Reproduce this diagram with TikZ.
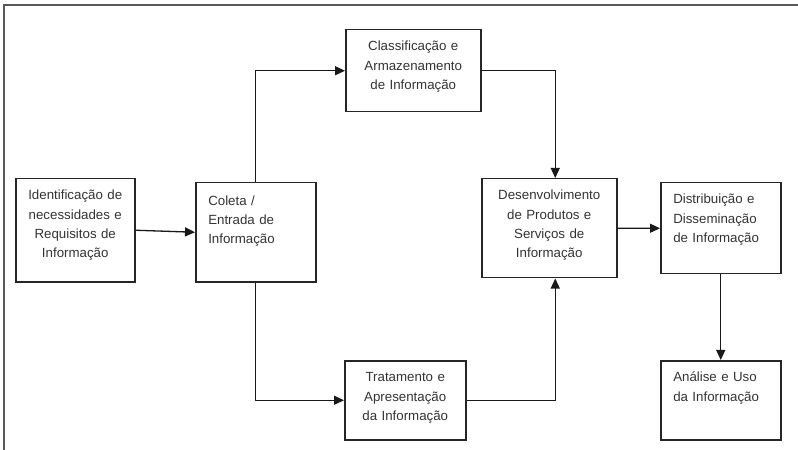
\documentclass[tikz,border=0pt]{standalone}
\usepackage{fontspec}
\setmainfont{Liberation Sans}
\usepackage{xcolor}
\usepackage{tikz}
\usetikzlibrary{arrows.meta}

\tikzset{
  box/.style={draw=black!85, line width=1.5bp, anchor=north west, inner ysep=0pt,
    text height=21bp, text=black!80, font=\fontsize{13.3bp}{19.3bp}\selectfont},
  midbox/.style={box, inner xsep=0pt, align=center},
  leftbox/.style={box, inner xsep=12.5bp, align=left},
  flow/.style={draw=black!90, line width=1.3bp, -{Triangle[length=10bp,width=9bp]}}
}

\begin{document}
\begin{tikzpicture}[x=1bp, y=-1bp]
\useasboundingbox (0,0) rectangle (798,450);
\draw[black!65, line width=1.6bp] (4,450) -- (4,5) -- (798,5);

\node[midbox, text width=119bp, text depth=82bp] (ident) at (15,178)
  {Identificação de\\necessidades e\\Requisitos de\\Informação};
\node[leftbox, text width=95bp, text height=22.5bp, text depth=76.5bp] (coleta) at (195,182)
  {Coleta /\\Entrada de\\Informação};
\node[midbox, text width=135bp, text depth=61bp] (classif) at (345,29)
  {Classificação e\\Armazenamento\\de Informação};
\node[midbox, text width=135bp, text depth=78bp] (desenv) at (481,178)
  {Desenvolvimento\\de Produtos e\\Serviços de\\Informação};
\node[leftbox, text width=95bp, text depth=70bp] (distrib) at (660,182)
  {Distribuição e\\Disseminação\\de Informação};
\node[midbox, text width=121bp, text depth=58bp] (tratam) at (344,360)
  {Tratamento e\\Apresentação\\da Informação};
\node[leftbox, text width=95bp, text depth=58bp] (analise) at (660,360)
  {Análise e Uso\\da Informação};

\draw[flow] (ident.east) -- (coleta.west);
\draw[flow] (coleta.north) |- (classif.west);
\draw[flow] (classif.east) -| ([xshift=6bp]desenv.north);
\draw[flow] (coleta.south) |- (tratam.west);
\draw[flow] (tratam.east) -| ([xshift=6bp]desenv.south);
\draw[flow] (desenv.east) -- (distrib.west);
\draw[flow] (distrib.south) -- (analise.north);
\end{tikzpicture}
\end{document}
